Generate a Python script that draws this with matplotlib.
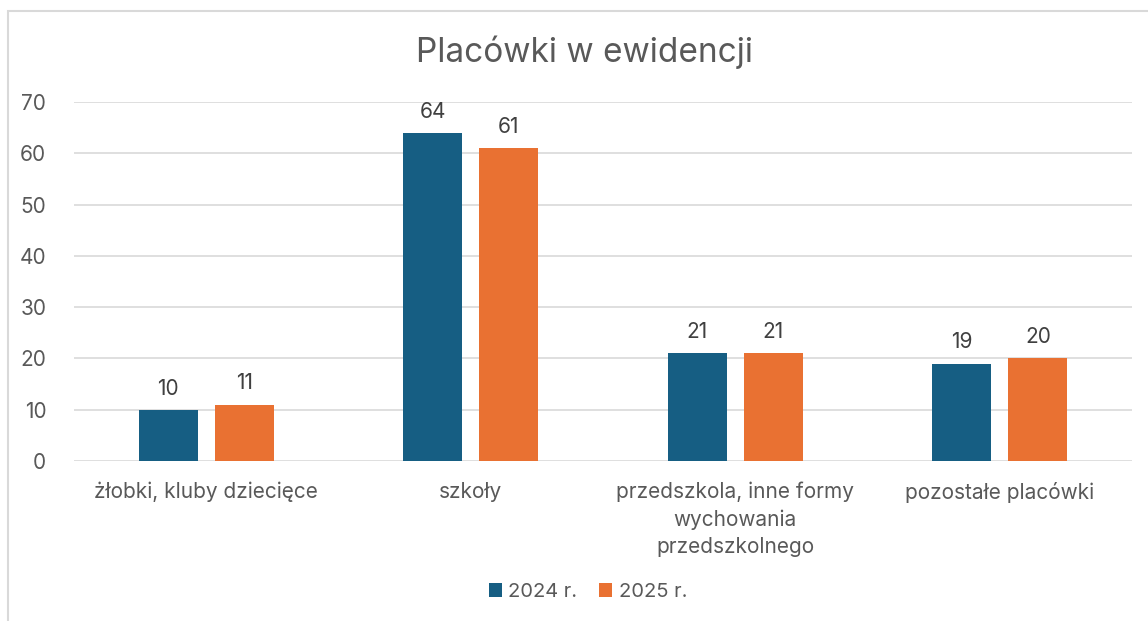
import matplotlib
matplotlib.use("Agg")
import matplotlib.pyplot as plt
from matplotlib.patches import Rectangle
import numpy as np

categories = ["żłobki, kluby dziecięce", "szkoły",
              "przedszkola, inne formy\nwychowania\nprzedszkolnego", "pozostałe placówki"]
series_names = ["2024 r.", "2025 r."]
values_2024 = [10, 64, 21, 19]
values_2025 = [11, 61, 21, 20]
colors = ["#165E83", "#E97132"]

plt.rcParams['font.family'] = ['Inter', 'DejaVu Sans']
txt = "#595959"

fig = plt.figure(figsize=(11.48, 6.21), dpi=100)
fig.patches.append(Rectangle((8/1148, -0.1), 1.2, 1 - 11/621 + 0.1, transform=fig.transFigure,
                             fill=False, edgecolor="#D9D9D9", linewidth=1.5))
ax = fig.add_axes([74/1148, 1 - 461/621, 1058/1148, 359/621])

x = np.arange(len(categories))
w = 0.223
off = 0.144
b1 = ax.bar(x - off, values_2024, w, color=colors[0], label=series_names[0], zorder=3)
b2 = ax.bar(x + off, values_2025, w, color=colors[1], label=series_names[1], zorder=3)
for bars in (b1, b2):
    ax.bar_label(bars, padding=8, fontsize=15, color="#404040")

ax.set_xlim(-0.5, 3.5)
ax.set_ylim(0, 70)
ax.set_yticks(range(0, 71, 10))
ax.yaxis.grid(True, color="#D9D9D9", linewidth=1.2, zorder=0)
for s in ax.spines.values():
    s.set_visible(False)
ax.tick_params(axis="both", length=0, labelsize=15, labelcolor=txt)
ax.tick_params(axis="y", pad=20)
ax.tick_params(axis="x", pad=15)
ax.set_xticks(x)
ax.set_xticklabels(categories, linespacing=1.45)

fig.text(585/1148, 1 - 52/621, "Placówki w ewidencji", ha="center", va="center",
         fontsize=24, color=txt)
fig.legend(handles=[b1, b2], loc="center", bbox_to_anchor=(588/1148, 1 - 592/621), ncol=2,
           frameon=False, fontsize=14.5, handlelength=0.65, handleheight=0.65,
           handletextpad=0.3, columnspacing=1.1, labelcolor=txt)

fig.savefig("out.png", dpi=100)
